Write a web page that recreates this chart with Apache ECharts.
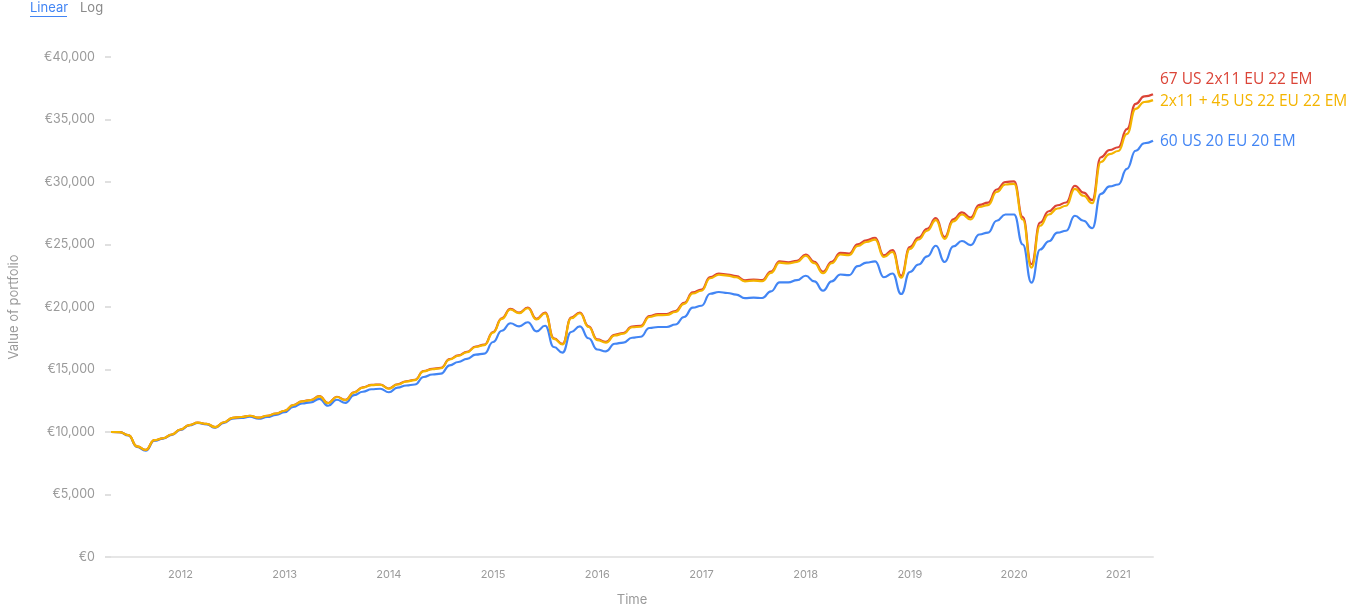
<!DOCTYPE html>
<html>
<head>
<meta charset="utf-8">
<script src="https://cdn.jsdelivr.net/npm/echarts@6/dist/echarts.min.js"></script>
<style>
html,body{margin:0;padding:0;background:#fff;}
#chart{width:1361px;height:613px;}
</style>
</head>
<body>
<div id="chart"></div>
<script>
// Monthly dates May 2011 .. May 2021
const months = [];
for (let y = 2011; y <= 2021; y++) {
  for (let m = 1; m <= 12; m++) {
    if ((y === 2011 && m < 5) || (y === 2021 && m > 5)) continue;
    months.push(y + '-' + String(m).padStart(2, '0'));
  }
}

const seriesNames = ['60 US 20 EU 20 EM', '67 US 2x11 EU 22 EM', '2x11 + 45 US 22 EU 22 EM'];
const seriesColors = ['#4285f4', '#db4437', '#f4b400'];

const blue = [
10000,9990,9730,8800,8500,9300,9470,9770,10170,10520,10720,10610,10350,10730,11070,11130,11220,11060,11200,11370,
11580,12000,12280,12370,12650,12100,12580,12330,12950,13220,13420,13460,13180,13550,13720,13800,14400,14600,14670,15330,
15600,15850,16190,16270,17200,18100,18700,18450,18780,18050,18500,16800,16350,18000,18450,17500,16600,16450,17060,17150,
17540,17620,18320,18400,18400,18600,19200,19950,20100,21060,21200,21120,20990,20710,20750,20720,21250,21970,21970,22150,
22500,22050,21300,22050,22600,22550,23270,23550,23650,22380,22680,21040,22800,23400,24050,24900,23600,24850,25280,24950,
25800,25950,26900,27400,27400,25000,21950,24600,25260,25950,26100,27300,26900,26300,29050,29650,29800,31050,32500,33100,
33300];

const red = [
10000,9990,9750,8850,8570,9350,9500,9800,10200,10550,10750,10650,10390,10780,11130,11200,11300,11150,11300,11480,
11700,12160,12460,12560,12870,12320,12820,12570,13180,13570,13770,13800,13480,13820,14060,14180,14880,15050,15130,15830,
16130,16420,16840,16990,18000,19100,19850,19550,19950,19050,19550,17500,17050,19160,19560,18460,17410,17210,17780,17920,
18440,18500,19280,19430,19440,19680,20340,21170,21390,22390,22670,22600,22470,22140,22200,22150,22830,23650,23580,23700,
24200,23620,22820,23620,24330,24280,25020,25340,25540,24140,24550,22490,24800,25550,26260,27110,25600,27010,27570,27160,
28170,28350,29400,30000,30050,27200,23420,26750,27660,28140,28360,29700,29150,28550,31980,32560,32780,34230,36250,36850,
37020];

const yellow = [
10000,9990,9750,8850,8570,9350,9500,9800,10200,10550,10750,10650,10390,10780,11130,11200,11300,11150,11300,11480,
11700,12150,12450,12550,12850,12300,12800,12550,13160,13550,13750,13780,13460,13800,14030,14150,14850,15020,15100,15800,
16100,16380,16800,16950,17950,19050,19800,19500,19900,19000,19500,17450,17000,19100,19500,18400,17350,17150,17720,17860,
18380,18420,19200,19350,19360,19600,20250,21080,21300,22300,22580,22510,22380,22050,22110,22060,22730,23550,23480,23600,
24100,23500,22700,23500,24200,24150,24880,25200,25390,24000,24400,22350,24650,25400,26100,26950,25450,26850,27400,27000,
28000,28150,29200,29800,29850,27000,23150,26500,27400,27880,28100,29450,28900,28300,31600,32230,32480,33850,35850,36400,
36550];

const seriesData = [blue, red, yellow];
const labelOffsets = [[0, 1], [0, -15], [0, 1]];

const chart = echarts.init(document.getElementById('chart'), null, {renderer: 'canvas'});
const FONT = 'Inter, "Noto Sans", sans-serif';
const LFONT = '"Open Sans", "Noto Sans", sans-serif';

const option = {
  animation: false,
  backgroundColor: '#ffffff',
  grid: {left: 105, right: 208, top: 57, bottom: 56, containLabel: false},
  graphic: [
    {type: 'text', left: 30, top: 2, style: {text: 'Linear', fill: '#4285f4', font: '13px ' + FONT}},
    {type: 'line', shape: {x1: 30, y1: 16.5, x2: 67, y2: 16.5}, style: {stroke: '#4285f4', lineWidth: 1}},
    {type: 'text', left: 80, top: 2, style: {text: 'Log', fill: '#8a8a8a', font: '13px ' + FONT}}
  ],
  xAxis: {
    type: 'category',
    data: months,
    boundaryGap: false,
    name: 'Time',
    nameLocation: 'middle',
    nameGap: 37,
    nameTextStyle: {color: '#9a9a9a', fontSize: 13, fontFamily: FONT},
    axisLine: {show: true, lineStyle: {color: '#e6e6e6', width: 2}},
    axisTick: {show: false},
    splitLine: {show: false},
    axisLabel: {
      color: '#9a9a9a', fontSize: 11, fontFamily: FONT, margin: 12,
      interval: function (idx, val) { return val.slice(5) === '01'; },
      formatter: function (val) { return val.slice(0, 4); }
    }
  },
  yAxis: {
    type: 'value',
    min: 0, max: 40000, interval: 5000,
    name: 'Value of portfolio',
    nameLocation: 'middle',
    nameRotate: 90,
    nameGap: 90,
    nameTextStyle: {color: '#9a9a9a', fontSize: 13, fontFamily: FONT},
    axisLine: {show: false},
    axisTick: {show: true, length: 6, lineStyle: {color: '#e0e0e0', width: 2}},
    splitLine: {show: false},
    axisLabel: {
      color: '#9a9a9a', fontSize: 12.5, fontFamily: FONT, margin: 16,
      padding: [0, 0, 8, 0],
      formatter: function (v) { return '€' + v.toLocaleString('en-US'); }
    }
  },
  series: seriesNames.map(function (name, k) {
    return {
      name: name,
      type: 'line',
      data: seriesData[k],
      smooth: 0.5,
      smoothMonotone: 'x',
      showSymbol: false,
      symbol: 'none',
      lineStyle: {width: 2.2, color: seriesColors[k]},
      itemStyle: {color: seriesColors[k]},
      endLabel: {
        show: true,
        formatter: name,
        color: seriesColors[k],
        fontSize: 15.5,
        fontFamily: LFONT,
        distance: 7,
        offset: labelOffsets[k]
      },
      z: 2 + k
    };
  })
};
chart.setOption(option);
</script>
</body>
</html>
